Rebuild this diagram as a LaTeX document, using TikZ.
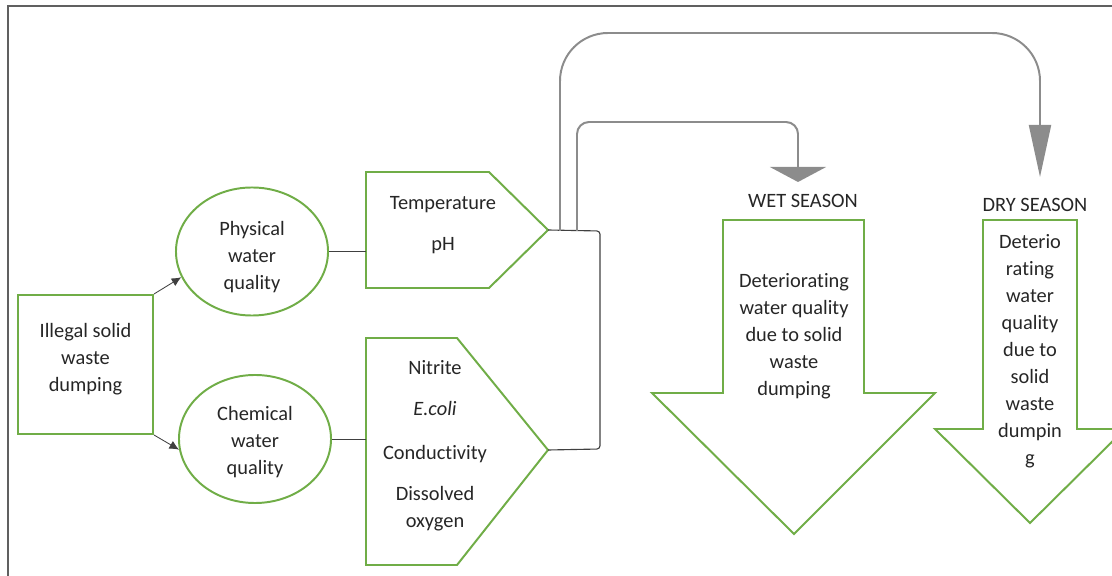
\documentclass[tikz,border=0pt]{standalone}
\usepackage{fontspec}
\setmainfont[Ligatures={NoCommon}]{Carlito}
\usepackage{xcolor}
\usepackage{tikz}
\usetikzlibrary{shapes.geometric,arrows.meta,calc}
\definecolor{wqGreen}{RGB}{112,173,71}
\definecolor{wqLink}{RGB}{140,140,140}
\definecolor{wqLine}{RGB}{64,64,64}
\definecolor{wqFrame}{RGB}{96,96,96}
\tikzset{
  wqtext/.style={align=center, font=\fontsize{14.5}{19.2}\selectfont, text=black!85,
    inner sep=0pt},
  sourcebox/.style={rectangle, draw=wqGreen, line width=1.4pt,
    minimum width=3.375cm, minimum height=3.475cm, wqtext},
  qualityell/.style={ellipse, draw=wqGreen, line width=1.4pt,
    minimum width=3.8cm, minimum height=3.2cm, wqtext},
  paramshape/.style={draw=wqGreen, line width=1.4pt, line join=miter},
  seasonshape/.style={draw=wqGreen, line width=1.4pt, line join=miter},
  causearrow/.style={-{Latex[length=2.4mm,width=2.2mm]}, draw=wqLine, line width=0.6pt},
  plainlink/.style={draw=wqLine, line width=0.6pt},
  bracketline/.style={draw=wqLine, line width=0.8pt, rounded corners=0.08cm},
  wetlink/.style={-{Triangle[length=0.375cm,width=1.4cm]}, draw=wqLink, line width=1.4pt,
    rounded corners=0.3cm},
  drylink/.style={-{Triangle[length=1.3cm,width=0.55cm]}, draw=wqLink, line width=1.4pt,
    rounded corners=1.2cm},
}
\begin{document}
\begin{tikzpicture}[x=0.025cm,y=-0.025cm]
  \useasboundingbox (0,0) rectangle (1112,576);
  \draw[wqFrame, line width=1.4pt] (8,576) -- (8,6) -- (1112,6);

  \node[sourcebox] (dump) at (85.5,364.5) {Illegal solid\\waste\\dumping\rule[-0.35cm]{0pt}{0pt}};
  \node[qualityell] (phys) at (252,251.5) {\rule{0pt}{0.61cm}Physical\\water\\quality};
  \node[qualityell] (chem) at (255,439) {\rule{0pt}{0.51cm}Chemical\\water\\quality};
  \draw[causearrow] (dump.north east) -- (phys.200);
  \draw[causearrow] (dump.south east) -- (chem.188);

  \draw[paramshape] (366,172) -- (489,172) -- (548,230) -- (489,288) -- (366,288) -- cycle;
  \draw[paramshape] (366,338) -- (457,338) -- (548,450) -- (457,565) -- (366,565) -- cycle;
  \coordinate (physin) at (366,251.5);
  \coordinate (chemin) at (366,439);
  \coordinate (phystip) at (548,230);
  \coordinate (chemtip) at (548,450);
  \node[wqtext] (physpar) at (443,225) {Temperature\\[0.35cm]pH};
  \node[wqtext] (chempar) at (435,446) {Nitrite\\[0.35cm]\textit{E.coli}\\[0.42cm]Conductivity\\[0.35cm]Dissolved\\oxygen};
  \draw[plainlink] (phys.east) -- (physin);
  \draw[plainlink] (chem.east) -- (chemin);

  \draw[bracketline] (phystip) -- (600,231) -- (600,449) -- (chemtip);
  \coordinate (drystart) at (560,231);
  \coordinate (wetstart) at (577,231);
  \coordinate (wettip) at (798,182);
  \coordinate (drytip) at (1040,177);
  \draw[drylink] (drystart) -- (560,33) -- (1040,33) -- (drytip);
  \draw[wetlink] (wetstart) -- (577,122) -- (798,122) -- (wettip);

  \node[wqtext] (wetlbl) at (803,201) {WET SEASON};
  \node[wqtext] (drylbl) at (1035,205) {DRY SEASON};

  \draw[seasonshape] (723,220) -- (864,220) -- (864,393) -- (935,393) -- (794,534) -- (652,393) -- (723,393) -- cycle;
  \draw[seasonshape] (983,220) -- (1077,220) -- (1077,429) -- (1125,429) -- (1030,523) -- (935,429) -- (983,429) -- cycle;
  \node[wqtext] (wettxt) at (794,336) {Deteriorating\\water quality\\due to solid\\waste\\dumping};
  \node[wqtext] (drytxt) at (1030,351) {Deterio\\rating\\water\\quality\\due to\\solid\\waste\\dumpin\\g};
\end{tikzpicture}
\end{document}
